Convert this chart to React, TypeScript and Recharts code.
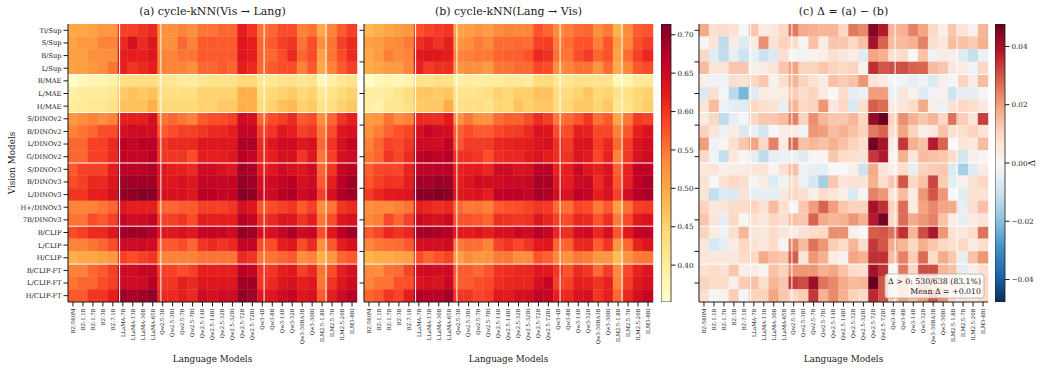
import { BarChart, Bar, Cell, XAxis, YAxis, ReferenceLine } from 'recharts'

const languageModels = [
  'BZ-560M', 'BZ-1.1B', 'BZ-1.7B', 'BZ-3B', 'BZ-7.1B',
  'LLaMA-7B', 'LLaMA-13B', 'LLaMA-30B', 'LLaMA-65B',
  'Qw2.5-3B', 'Qw2.5-3BI', 'Qw2.5-7B', 'Qw2.5-7BI', 'Qw2.5-14B', 'Qw2.5-14BI',
  'Qw2.5-32B', 'Qw2.5-32BI', 'Qw2.5-72B', 'Qw2.5-72BI',
  'Qw3-4B', 'Qw3-8B', 'Qw3-14B', 'Qw3-32B', 'Qw3-30BA3B', 'Qw3-30BI',
  'ILM2.5-1.8B', 'ILM2.5-7B', 'ILM2.5-20B', 'ILM3-8BI',
]

const visionModels = [
  'Ti/Sup', 'S/Sup', 'B/Sup', 'L/Sup',
  'B/MAE', 'L/MAE', 'H/MAE',
  'S/DINOv2', 'B/DINOv2', 'L/DINOv2', 'G/DINOv2',
  'S/DINOv3', 'B/DINOv3', 'L/DINOv3', 'H+/DINOv3', '7B/DINOv3',
  'B/CLIP', 'L/CLIP', 'H/CLIP',
  'B/CLIP-FT', 'L/CLIP-FT', 'H/CLIP-FT',
]

// family boundaries (white separators)
const langGroupEdges = [5, 9, 19, 25]
const visGroupEdges = [4, 7, 11, 16, 19]

// cycle-kNN, vision -> language (rows: vision models, cols: language models)
const visToLang = [
  [0.50, 0.50, 0.51, 0.52, 0.52, 0.59, 0.59, 0.60, 0.61, 0.53, 0.53, 0.54, 0.53, 0.55, 0.55, 0.56, 0.56, 0.62, 0.60, 0.55, 0.56, 0.58, 0.58, 0.54, 0.55, 0.50, 0.54, 0.57, 0.59],
  [0.51, 0.52, 0.52, 0.54, 0.54, 0.61, 0.64, 0.61, 0.63, 0.53, 0.53, 0.56, 0.54, 0.57, 0.57, 0.57, 0.57, 0.63, 0.62, 0.56, 0.57, 0.59, 0.60, 0.55, 0.58, 0.53, 0.55, 0.59, 0.61],
  [0.51, 0.51, 0.53, 0.53, 0.53, 0.62, 0.62, 0.62, 0.63, 0.54, 0.54, 0.55, 0.55, 0.57, 0.57, 0.57, 0.57, 0.63, 0.62, 0.56, 0.56, 0.58, 0.61, 0.56, 0.58, 0.51, 0.55, 0.58, 0.61],
  [0.51, 0.51, 0.52, 0.53, 0.55, 0.62, 0.60, 0.61, 0.62, 0.54, 0.54, 0.54, 0.53, 0.56, 0.56, 0.57, 0.56, 0.62, 0.61, 0.56, 0.57, 0.58, 0.58, 0.54, 0.57, 0.50, 0.54, 0.57, 0.59],
  [0.36, 0.37, 0.38, 0.38, 0.39, 0.43, 0.43, 0.43, 0.43, 0.41, 0.41, 0.40, 0.40, 0.41, 0.42, 0.42, 0.42, 0.44, 0.44, 0.41, 0.41, 0.42, 0.42, 0.41, 0.42, 0.37, 0.39, 0.41, 0.42],
  [0.39, 0.40, 0.40, 0.40, 0.41, 0.46, 0.47, 0.46, 0.47, 0.43, 0.43, 0.43, 0.43, 0.45, 0.45, 0.45, 0.45, 0.49, 0.49, 0.43, 0.44, 0.45, 0.46, 0.44, 0.45, 0.41, 0.42, 0.44, 0.45],
  [0.40, 0.40, 0.41, 0.41, 0.42, 0.47, 0.47, 0.47, 0.49, 0.44, 0.44, 0.44, 0.44, 0.45, 0.45, 0.46, 0.46, 0.49, 0.49, 0.44, 0.45, 0.47, 0.48, 0.45, 0.46, 0.42, 0.43, 0.45, 0.46],
  [0.52, 0.53, 0.54, 0.53, 0.54, 0.62, 0.62, 0.62, 0.64, 0.55, 0.56, 0.55, 0.54, 0.57, 0.58, 0.58, 0.59, 0.65, 0.64, 0.56, 0.58, 0.59, 0.61, 0.57, 0.58, 0.53, 0.56, 0.60, 0.62],
  [0.54, 0.55, 0.56, 0.58, 0.58, 0.64, 0.65, 0.65, 0.65, 0.57, 0.58, 0.59, 0.59, 0.60, 0.61, 0.61, 0.62, 0.66, 0.66, 0.59, 0.60, 0.63, 0.62, 0.59, 0.60, 0.55, 0.58, 0.63, 0.64],
  [0.56, 0.56, 0.59, 0.59, 0.61, 0.67, 0.66, 0.67, 0.67, 0.60, 0.61, 0.61, 0.61, 0.63, 0.63, 0.63, 0.63, 0.68, 0.68, 0.61, 0.63, 0.65, 0.65, 0.63, 0.64, 0.56, 0.60, 0.64, 0.66],
  [0.56, 0.56, 0.59, 0.59, 0.61, 0.66, 0.66, 0.66, 0.67, 0.60, 0.60, 0.60, 0.58, 0.62, 0.62, 0.62, 0.63, 0.67, 0.66, 0.61, 0.62, 0.64, 0.64, 0.60, 0.63, 0.55, 0.59, 0.64, 0.65],
  [0.57, 0.59, 0.59, 0.59, 0.62, 0.67, 0.67, 0.67, 0.68, 0.63, 0.62, 0.62, 0.61, 0.65, 0.65, 0.64, 0.63, 0.69, 0.68, 0.62, 0.63, 0.65, 0.64, 0.63, 0.65, 0.56, 0.60, 0.66, 0.67],
  [0.58, 0.59, 0.61, 0.61, 0.63, 0.69, 0.69, 0.69, 0.69, 0.63, 0.63, 0.64, 0.63, 0.66, 0.66, 0.66, 0.66, 0.70, 0.69, 0.64, 0.65, 0.66, 0.67, 0.64, 0.65, 0.57, 0.62, 0.67, 0.69],
  [0.60, 0.60, 0.62, 0.62, 0.64, 0.70, 0.70, 0.71, 0.71, 0.64, 0.64, 0.64, 0.63, 0.67, 0.67, 0.66, 0.66, 0.71, 0.70, 0.65, 0.65, 0.67, 0.68, 0.65, 0.66, 0.59, 0.64, 0.68, 0.69],
  [0.54, 0.54, 0.54, 0.55, 0.56, 0.63, 0.62, 0.62, 0.62, 0.56, 0.56, 0.57, 0.57, 0.59, 0.59, 0.59, 0.60, 0.64, 0.63, 0.57, 0.58, 0.59, 0.60, 0.57, 0.59, 0.53, 0.55, 0.60, 0.61],
  [0.55, 0.55, 0.58, 0.57, 0.59, 0.66, 0.65, 0.65, 0.66, 0.59, 0.59, 0.60, 0.58, 0.62, 0.62, 0.62, 0.62, 0.67, 0.66, 0.60, 0.61, 0.63, 0.63, 0.60, 0.62, 0.55, 0.58, 0.63, 0.64],
  [0.58, 0.59, 0.61, 0.61, 0.63, 0.69, 0.69, 0.69, 0.68, 0.63, 0.63, 0.64, 0.63, 0.66, 0.66, 0.66, 0.65, 0.70, 0.69, 0.64, 0.64, 0.66, 0.68, 0.65, 0.66, 0.58, 0.63, 0.67, 0.69],
  [0.54, 0.54, 0.55, 0.56, 0.58, 0.65, 0.65, 0.65, 0.65, 0.57, 0.57, 0.58, 0.56, 0.60, 0.61, 0.60, 0.61, 0.66, 0.66, 0.58, 0.58, 0.62, 0.63, 0.58, 0.61, 0.53, 0.57, 0.62, 0.64],
  [0.49, 0.50, 0.50, 0.51, 0.52, 0.59, 0.58, 0.59, 0.60, 0.54, 0.54, 0.54, 0.54, 0.55, 0.55, 0.55, 0.55, 0.61, 0.60, 0.55, 0.55, 0.56, 0.57, 0.53, 0.54, 0.49, 0.52, 0.56, 0.57],
  [0.54, 0.54, 0.56, 0.57, 0.59, 0.65, 0.65, 0.66, 0.66, 0.59, 0.59, 0.58, 0.59, 0.62, 0.62, 0.62, 0.62, 0.67, 0.66, 0.60, 0.60, 0.62, 0.63, 0.59, 0.61, 0.55, 0.58, 0.62, 0.64],
  [0.55, 0.56, 0.56, 0.58, 0.59, 0.65, 0.65, 0.65, 0.67, 0.60, 0.60, 0.62, 0.61, 0.63, 0.63, 0.63, 0.63, 0.69, 0.69, 0.60, 0.61, 0.63, 0.64, 0.62, 0.63, 0.55, 0.60, 0.63, 0.65],
  [0.57, 0.57, 0.60, 0.60, 0.62, 0.69, 0.68, 0.69, 0.70, 0.61, 0.61, 0.62, 0.61, 0.65, 0.64, 0.65, 0.65, 0.70, 0.69, 0.63, 0.63, 0.65, 0.66, 0.63, 0.64, 0.57, 0.62, 0.65, 0.67],
]

// Δ = (Vis -> Lang) − (Lang -> Vis)
const delta = [
  [0.018, 0.008, 0.009, 0.007, 0.000, 0.013, 0.004, 0.005, 0.010, 0.025, 0.018, 0.017, 0.016, 0.016, 0.010, 0.025, 0.023, 0.044, 0.038, 0.016, 0.017, 0.024, 0.019, 0.010, 0.003, 0.013, 0.006, 0.002, 0.016],
  [0.001, 0.006, -0.012, 0.004, -0.006, 0.004, 0.022, 0.007, 0.011, 0.009, 0.001, 0.014, 0.004, 0.013, 0.013, 0.010, 0.014, 0.040, 0.028, 0.015, 0.015, 0.017, 0.024, 0.008, 0.005, 0.015, 0.014, 0.012, 0.017],
  [0.010, -0.006, -0.012, -0.004, -0.010, -0.004, -0.010, -0.007, 0.008, 0.001, -0.002, 0.002, 0.003, 0.008, 0.005, 0.004, -0.006, 0.019, 0.017, 0.007, 0.009, 0.000, 0.014, -0.002, 0.004, 0.003, -0.006, -0.011, -0.003],
  [0.015, 0.006, 0.006, 0.013, 0.013, 0.003, 0.004, 0.006, 0.013, 0.019, 0.011, 0.011, 0.013, 0.011, 0.010, 0.011, 0.002, 0.035, 0.030, 0.031, 0.031, 0.028, 0.028, 0.015, 0.013, 0.005, 0.004, -0.002, 0.010],
  [0.003, -0.002, -0.002, 0.008, 0.007, 0.010, 0.013, 0.002, 0.008, 0.016, 0.011, 0.007, 0.004, 0.014, 0.012, 0.014, 0.021, 0.006, 0.004, -0.001, -0.002, -0.004, -0.002, -0.007, 0.003, -0.001, 0.011, 0.004, 0.015],
  [-0.007, 0.008, -0.001, -0.013, -0.022, -0.006, 0.004, 0.003, 0.004, 0.012, 0.009, 0.011, 0.004, 0.000, 0.009, -0.004, -0.003, 0.020, 0.020, -0.003, 0.006, 0.002, -0.006, -0.002, 0.002, -0.010, -0.004, -0.004, 0.001],
  [0.006, 0.015, -0.003, -0.005, -0.006, 0.010, 0.008, 0.007, -0.004, 0.016, 0.010, 0.011, 0.021, 0.005, 0.010, -0.007, 0.008, 0.029, 0.027, 0.004, 0.006, 0.009, 0.018, 0.003, -0.003, 0.007, 0.010, 0.008, 0.005],
  [0.004, 0.010, -0.012, -0.004, -0.001, 0.010, 0.013, 0.013, 0.015, 0.024, 0.011, 0.022, 0.016, 0.013, 0.013, 0.016, 0.010, 0.042, 0.048, 0.011, 0.022, 0.017, 0.013, 0.016, 0.010, 0.026, 0.012, 0.006, 0.033],
  [0.011, 0.006, -0.003, 0.004, -0.007, -0.003, -0.009, 0.000, 0.004, 0.004, -0.002, 0.021, 0.020, 0.015, 0.017, 0.014, 0.011, 0.025, 0.028, 0.009, 0.019, 0.011, 0.003, 0.005, 0.014, 0.008, 0.008, 0.011, 0.006],
  [0.020, -0.002, 0.001, 0.008, 0.013, 0.019, 0.010, 0.024, 0.004, 0.027, 0.014, 0.016, 0.014, 0.017, 0.014, 0.011, 0.008, 0.046, 0.040, 0.004, 0.034, 0.017, 0.014, 0.038, 0.028, 0.000, 0.006, 0.005, 0.015],
  [0.010, -0.002, -0.011, 0.005, 0.001, -0.005, -0.012, -0.004, -0.003, -0.003, -0.006, 0.001, 0.001, 0.013, 0.009, 0.008, 0.007, 0.034, 0.038, 0.002, 0.017, 0.006, 0.015, 0.014, 0.013, 0.009, -0.009, 0.003, 0.001],
  [0.005, 0.006, 0.003, 0.004, 0.004, 0.006, 0.006, 0.001, 0.007, 0.014, -0.003, -0.004, -0.004, 0.000, 0.000, 0.003, -0.010, 0.018, 0.006, 0.003, 0.009, -0.004, 0.011, 0.012, 0.013, -0.007, -0.016, -0.006, 0.004],
  [0.007, 0.000, 0.007, 0.010, 0.008, 0.001, 0.004, -0.006, -0.002, 0.009, -0.003, -0.008, -0.016, 0.013, 0.006, 0.007, 0.006, 0.017, 0.008, 0.013, 0.030, 0.010, 0.014, 0.032, 0.012, -0.005, 0.002, 0.007, 0.010],
  [0.006, -0.011, -0.006, -0.007, 0.007, -0.004, -0.004, -0.004, 0.005, 0.010, 0.008, 0.003, 0.009, 0.006, 0.003, -0.007, 0.001, 0.024, 0.021, 0.006, 0.015, 0.004, 0.021, 0.030, 0.021, 0.000, -0.005, 0.007, 0.007],
  [0.011, 0.005, 0.006, 0.009, 0.009, 0.011, 0.007, 0.015, 0.008, 0.001, 0.013, 0.020, 0.028, 0.020, 0.013, 0.011, 0.011, 0.040, 0.035, 0.011, 0.027, 0.004, 0.019, 0.023, 0.019, 0.018, -0.004, 0.008, 0.014],
  [0.013, 0.006, -0.004, 0.010, 0.001, 0.007, 0.005, 0.010, 0.008, 0.014, 0.013, 0.028, 0.018, 0.016, 0.017, 0.021, 0.017, 0.038, 0.046, 0.010, 0.027, 0.018, 0.021, 0.024, 0.014, 0.004, -0.004, 0.004, 0.006],
  [0.011, 0.004, -0.002, 0.008, 0.016, 0.006, 0.005, 0.009, 0.006, 0.004, 0.007, 0.009, 0.010, 0.022, 0.022, 0.003, 0.000, 0.029, 0.030, 0.026, 0.035, 0.016, 0.031, 0.039, 0.021, 0.007, 0.005, 0.009, 0.026],
  [0.005, -0.008, -0.004, 0.004, 0.010, 0.007, 0.005, 0.009, 0.001, 0.023, 0.015, 0.026, 0.021, 0.012, 0.009, 0.016, 0.009, 0.034, 0.030, 0.018, 0.016, 0.010, 0.017, 0.013, 0.010, 0.008, 0.010, 0.004, 0.008],
  [0.006, 0.005, 0.005, 0.005, 0.009, 0.010, 0.018, 0.014, 0.013, 0.029, 0.006, 0.021, 0.017, 0.004, 0.002, 0.019, 0.017, 0.035, 0.035, 0.015, 0.024, 0.012, 0.027, 0.009, 0.018, 0.013, -0.004, 0.014, 0.021],
  [0.007, 0.009, 0.007, 0.013, 0.003, 0.004, 0.001, 0.014, 0.011, 0.021, 0.021, 0.021, 0.017, 0.019, 0.014, 0.009, 0.008, 0.040, 0.035, 0.001, 0.025, 0.010, 0.031, 0.031, 0.016, 0.014, -0.005, 0.003, 0.008],
  [0.011, 0.009, 0.009, 0.003, 0.012, 0.014, 0.008, 0.016, 0.013, 0.033, 0.031, 0.041, 0.026, 0.023, 0.018, 0.015, 0.016, 0.048, 0.030, 0.010, 0.020, 0.010, 0.022, 0.018, 0.012, 0.010, 0.008, 0.005, 0.010],
  [0.008, -0.001, 0.002, 0.012, -0.001, 0.011, 0.011, 0.019, 0.013, 0.010, 0.012, 0.034, 0.017, 0.023, 0.017, 0.011, 0.009, 0.036, 0.030, 0.012, 0.020, 0.015, 0.020, 0.030, 0.022, 0.010, 0.007, 0.006, 0.010],
]

// cycle-kNN, language -> vision, recovered from panel (a) and the difference
const langToVis = visToLang.map((row, i) => row.map((v, j) => +(v - delta[i][j]).toFixed(3)))

const simRange: [number, number] = [0.352, 0.714]
const deltaRange: [number, number] = [-0.0477, 0.0477]
const simTicks = [0.4, 0.45, 0.5, 0.55, 0.6, 0.65, 0.7]
const deltaTicks = [-0.04, -0.02, 0, 0.02, 0.04]

const YL_OR_RD = ['#ffffcc', '#ffeda0', '#fed976', '#feb24c', '#fd8d3c', '#fc4e2a', '#e31a1c', '#bd0026', '#800026']
const RD_BU_R = ['#053061', '#2166ac', '#4393c3', '#92c5de', '#d1e5f0', '#f7f7f7', '#fddbc7', '#f4a582', '#d6604d', '#b2182b', '#67001f']

const FONT = "'DejaVu Serif', serif"
const INK = '#1a1a1a'
const PLOT_TOP = 24
const PLOT_BOTTOM = 66
const FIG_H = 368

function hexRgb(h: string) {
  const n = parseInt(h.slice(1), 16)
  return [(n >> 16) & 255, (n >> 8) & 255, n & 255]
}

function sample(stops: string[], range: [number, number], v: number) {
  const t = Math.min(1, Math.max(0, (v - range[0]) / (range[1] - range[0])))
  const p = t * (stops.length - 1)
  const i = Math.min(stops.length - 2, Math.floor(p))
  const f = p - i
  const a = hexRgb(stops[i])
  const b = hexRgb(stops[i + 1])
  const c = a.map((x, k) => Math.round(x + (b[k] - x) * f))
  return `rgb(${c[0]},${c[1]},${c[2]})`
}

// one category per language model, one unit-high stacked segment per vision model
const cellRows = languageModels.map(model => {
  const row: Record<string, string | number> = { model }
  visionModels.forEach((_, r) => { row[`r${r}`] = 1 })
  return row
})

function ColumnTick({ x, y, payload }: any) {
  return (
    <text
      x={x} y={y}
      transform={`rotate(-90, ${x}, ${y})`}
      textAnchor="end" dy="0.34em"
      fontSize={5.3} fontFamily={FONT} fill={INK}
    >
      {payload.value}
    </text>
  )
}

interface HeatmapProps {
  values: number[][]
  stops: string[]
  range: [number, number]
  left: number
  width: number
  axisWidth: number
  rowLabels: boolean
}

function Heatmap({ values, stops, range, left, width, axisWidth, rowLabels }: HeatmapProps) {
  const rowTicks = rowLabels
    ? visionModels.map((_, i) => i + 0.5)
    : [0, 2.5, 5, 7.5, 10, 12.5, 15, 17.5, 20].map(v => v + 0.5)
  return (
    <div style={{ position: 'absolute', left, top: 0 }}>
      <BarChart
        width={width} height={FIG_H} data={cellRows}
        margin={{ top: PLOT_TOP, right: 3, bottom: 0, left: 0 }}
        barCategoryGap={0} barGap={0}
      >
        <XAxis
          dataKey="model" interval={0} height={PLOT_BOTTOM}
          tick={<ColumnTick />} tickSize={4.5} tickMargin={2}
          axisLine={{ stroke: INK }} tickLine={{ stroke: INK }}
        />
        <XAxis
          xAxisId="edge" type="number" domain={[0, 29]} orientation="top"
          height={0} tick={false} tickLine={false} axisLine={{ stroke: INK }} allowDataOverflow
        />
        <YAxis
          type="number" domain={[0, 22]} reversed ticks={rowTicks} interval={0}
          width={axisWidth} tickSize={4.5} tickMargin={2}
          tickFormatter={(v: number) => (rowLabels ? visionModels[Math.floor(v)] : '')}
          tick={{ fontSize: 6.7, fontFamily: FONT, fill: INK }}
          axisLine={{ stroke: INK }} tickLine={{ stroke: INK }} allowDataOverflow
        />
        <YAxis
          yAxisId="edge" type="number" domain={[0, 22]} orientation="right"
          width={0} tick={false} tickLine={false} axisLine={{ stroke: INK }} allowDataOverflow
        />
        {visionModels.map((_, r) => (
          <Bar key={r} dataKey={`r${r}`} stackId="cells" isAnimationActive={false}>
            {languageModels.map((_, c) => {
              const fill = sample(stops, range, values[r][c])
              return <Cell key={c} fill={fill} stroke={fill} strokeWidth={0.4} />
            })}
          </Bar>
        ))}
        {langGroupEdges.map(x => (
          <ReferenceLine key={`x${x}`} xAxisId="edge" x={x} stroke="#fff" strokeWidth={1} zIndex={450} />
        ))}
        {visGroupEdges.map(y => (
          <ReferenceLine key={`y${y}`} y={y} stroke="#fff" strokeWidth={1} zIndex={450} />
        ))}
      </BarChart>
    </div>
  )
}

function ColorBar({ left, stops, range, ticks, id }: {
  left: number; stops: string[]; range: [number, number]; ticks: number[]; id: string
}) {
  return (
    <div style={{ position: 'absolute', left, top: 0 }}>
      <BarChart
        width={52} height={FIG_H} data={[{ key: id, span: range }]}
        margin={{ top: PLOT_TOP, right: 0, bottom: PLOT_BOTTOM, left: 0 }}
        barCategoryGap={0}
      >
        <defs>
          <linearGradient id={id} x1="0" y1="1" x2="0" y2="0">
            {stops.map((c, i) => <stop key={i} offset={i / (stops.length - 1)} stopColor={c} />)}
          </linearGradient>
        </defs>
        <XAxis dataKey="key" hide />
        <YAxis
          orientation="right" type="number" domain={range} ticks={ticks} interval={0}
          width={42} tickSize={4.5} tickMargin={2} axisLine={false} tickLine={{ stroke: INK }}
          tickFormatter={(v: number) => v.toFixed(2).replace('-', '\u2212')}
          tick={{ fontSize: 7.2, fontFamily: FONT, fill: INK }} allowDataOverflow
        />
        <Bar dataKey="span" fill={`url(#${id})`} stroke={INK} strokeWidth={0.8} isAnimationActive={false} />
      </BarChart>
    </div>
  )
}

export default function App() {
  const titleStyle = { fontSize: 11, fontFamily: FONT, fill: INK }
  const labelStyle = { fontSize: 8.8, fontFamily: FONT, fill: INK }
  return (
    <div style={{ position: 'absolute', left: 0, top: 0, width: 1045, height: FIG_H, background: '#fff', overflow: 'hidden' }}>
      <Heatmap values={visToLang} stops={YL_OR_RD} range={simRange} left={0} width={360} axisWidth={68} rowLabels />
      <Heatmap values={langToVis} stops={YL_OR_RD} range={simRange} left={330} width={326} axisWidth={34} rowLabels={false} />
      <ColorBar left={661} stops={YL_OR_RD} range={simRange} ticks={simTicks} id="simGrad" />
      <Heatmap values={delta} stops={RD_BU_R} range={deltaRange} left={665} width={326} axisWidth={34} rowLabels={false} />
      <ColorBar left={995} stops={RD_BU_R} range={deltaRange} ticks={deltaTicks} id="deltaGrad" />
      <svg width={1045} height={FIG_H} style={{ position: 'absolute', left: 0, top: 0, pointerEvents: 'none' }}>
        <text x={212.5} y={14.5} textAnchor="middle" style={titleStyle}>(a) cycle-kNN(Vis → Lang)</text>
        <text x={508.5} y={14.5} textAnchor="middle" style={titleStyle}>(b) cycle-kNN(Lang → Vis)</text>
        <text x={843.5} y={14.5} textAnchor="middle" style={titleStyle}>(c) Δ = (a) − (b)</text>
        <text x={212.5} y={362} textAnchor="middle" style={labelStyle}>Language Models</text>
        <text x={508.5} y={362} textAnchor="middle" style={labelStyle}>Language Models</text>
        <text x={843.5} y={362} textAnchor="middle" style={labelStyle}>Language Models</text>
        <text transform="translate(14.5,163) rotate(-90)" textAnchor="middle" style={labelStyle}>Vision Models</text>
        <text transform="translate(1035,163) rotate(-90)" textAnchor="middle" style={labelStyle}>Δ</text>
        <rect x={885} y={274} width={99} height={24} rx={2.5} fill="#fff" fillOpacity={0.8} stroke="#b0b0b0" strokeWidth={0.8} />
        <text x={981} y={284.3} textAnchor="end" style={{ fontSize: 7.8, fontFamily: FONT, fill: INK }}>Δ &gt; 0: 530/638 (83.1%)</text>
        <text x={981} y={294.3} textAnchor="end" style={{ fontSize: 7.8, fontFamily: FONT, fill: INK }}>Mean Δ = +0.010</text>
      </svg>
    </div>
  )
}
